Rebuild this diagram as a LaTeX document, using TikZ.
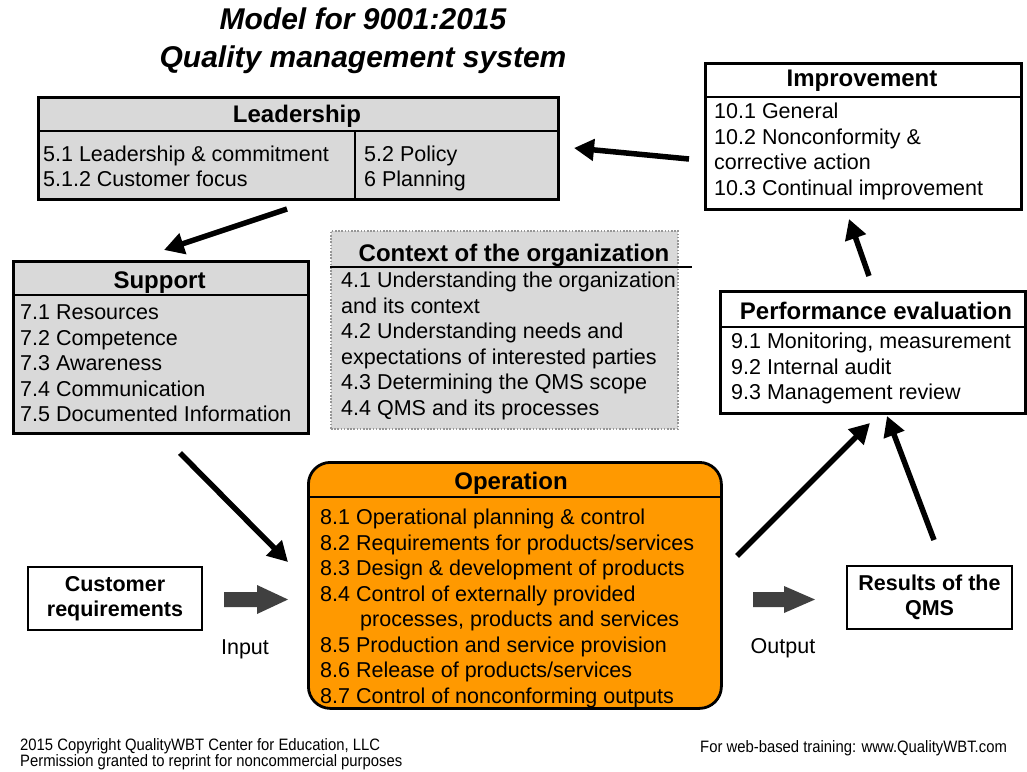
\documentclass[tikz,border=0pt]{standalone}
\usepackage{fontspec}
\setmainfont{Liberation Sans}
\newfontfamily\narrowsans[FakeStretch=0.9]{Liberation Sans}
\usetikzlibrary{arrows.meta,calc}

\definecolor{boxgray}{RGB}{217,217,217}
\definecolor{opsorange}{RGB}{255,153,0}
\definecolor{blockgray}{RGB}{64,64,64}
\definecolor{dotgray}{RGB}{150,150,150}

\tikzset{
  panel/.style={draw=black, line width=2.8pt, anchor=north west, inner sep=0pt},
  graypanel/.style={panel, fill=boxgray},
  whitepanel/.style={panel, fill=white},
  rule/.style={line width=2.8pt},
  head/.style={font=\fontsize{24}{28}\selectfont\bfseries, anchor=base, inner sep=0pt},
  body/.style={font=\fontsize{21.5}{25.6}\selectfont, anchor=base west, inner sep=0pt},
  plain/.style={font=\fontsize{21.5}{25.6}\selectfont, inner sep=0pt},
  endbox/.style={whitepanel, anchor=center, align=center,
    font=\fontsize{21.5}{25}\selectfont\bfseries},
  flow/.style={line width=5.5pt, -{Triangle[length=20pt,width=21pt]}},
  blockarrow/.style={fill=blockgray},
  foot/.style={font=\fontsize{16.5}{17}\selectfont\narrowsans, anchor=base west, inner sep=0pt},
}

% one text node per line, baselines 25.6 units apart
\newcommand\panellines[4]{%
  \foreach \t [count=\i] in {#4}{%
    \node[body] (#1-\i) at ({#2},{#3+(\i-1)*25.6}) {\t};}}

\begin{document}
\begin{tikzpicture}[x=1pt,y=-1pt]
\useasboundingbox (0,0) rectangle (1027,771);
\fill[white] (0,0) rectangle (1027,771);

% title
\node[align=center, inner sep=0pt, font=\fontsize{30}{38}\selectfont\bfseries\itshape]
  (title) at (363,41) {Model for 9001:2015\\Quality management system};

% Leadership
\node[graypanel, minimum width=520, minimum height=102] (lead) at (37,96) {};
\draw[rule] (37,131) -- (557,131);
\draw[rule] (355,131) -- (355,198);
\node[head] (lead-h) at (297,122.5) {Leadership};
\panellines{leadL}{43}{161}{5.1 Leadership \& commitment, 5.1.2 Customer focus}
\panellines{leadR}{364}{161}{5.2 Policy, 6 Planning}

% Improvement
\node[whitepanel, minimum width=316, minimum height=146] (impr) at (704,62) {};
\draw[rule] (704,97) -- (1020,97);
\node[head] (impr-h) at (862,86.5) {Improvement};
\panellines{imprL}{714}{118.5}{10.1 General, 10.2 Nonconformity \&, corrective action,
  10.3 Continual improvement}

% Support
\node[graypanel, minimum width=295, minimum height=172] (supp) at (12,260) {};
\draw[rule] (12,295) -- (307,295);
\node[head] (supp-h) at (159.5,288.5) {Support};
\panellines{suppL}{20}{319.5}{7.1 Resources, 7.2 Competence, 7.3 Awareness,
  7.4 Communication, 7.5 Documented Information}

% Context of the organization
\node[panel, fill=boxgray, draw=dotgray, line width=2pt, dash pattern=on 1.6pt off 1.6pt,
  minimum width=347, minimum height=198] (ctx) at (330,230) {};
\draw[line width=2.5pt] (330,267) -- (692,267);
\node[head] (ctx-h) at (514,261.5) {Context of the organization};
\panellines{ctxL}{341}{287.5}{4.1 Understanding the organization, and its context,
  4.2 Understanding needs and, expectations of interested parties,
  4.3 Determining the QMS scope, 4.4 QMS and its processes}

% Performance evaluation
\node[whitepanel, minimum width=305, minimum height=122] (perf) at (719,290) {};
\draw[rule] (719,327) -- (1024,327);
\node[head] (perf-h) at (876,319.5) {Performance evaluation};
\panellines{perfL}{731}{348.5}{{9.1 Monitoring, measurement}, 9.2 Internal audit,
  9.3 Management review}

% Operation
\node[panel, fill=opsorange, rounded corners=22pt, minimum width=413, minimum height=246]
  (ops) at (307,461) {};
\draw[rule] (307,497) -- (720,497);
\node[head] (ops-h) at (511,489.5) {Operation};
\panellines{opsA}{320}{524.5}{8.1 Operational planning \& control,
  8.2 Requirements for products/services, 8.3 Design \& development of products,
  8.4 Control of externally provided}
\node[body] (ops-cont) at (360,626.5) {processes, products and services};
\panellines{opsB}{320}{652}{8.5 Production and service provision,
  8.6 Release of products/services, 8.7 Control of nonconforming outputs}

% input and output
\node[endbox, minimum width=174, minimum height=63] (cust) at (115,598.5)
  {Customer\\requirements};
\node[endbox, minimum width=165, minimum height=63] (res) at (929.5,597.5)
  {Results of the\\QMS};
\fill[blockgray] (224,592) -- (257,592) -- (257,585) -- (288,599.5) -- (257,614)
  -- (257,607) -- (224,607) -- cycle;
\fill[blockgray] (753,592) -- (784,592) -- (784,586) -- (815,599.5) -- (784,613)
  -- (784,607) -- (753,607) -- cycle;
\node[plain] (inlbl) at (245,649) {Input};
\node[plain] (outlbl) at (783,648) {Output};

% cycle arrows
\coordinate (imprOut) at (689,159);
\coordinate (leadIn) at (574,148);
\coordinate (leadOut) at (287,209);
\coordinate (suppIn) at (164,250);
\coordinate (suppOut) at (180,453);
\coordinate (opsIn) at (288,562);
\coordinate (opsOut) at (737,556);
\coordinate (perfInA) at (870,423);
\coordinate (resOut) at (934,540);
\coordinate (perfInB) at (887,416);
\coordinate (perfOut) at (869,276);
\coordinate (imprIn) at (849,219);
\draw[flow] (imprOut) -- (leadIn);
\draw[flow] (leadOut) -- (suppIn);
\draw[flow] (suppOut) -- (opsIn);
\draw[flow] (opsOut) -- (perfInA);
\draw[flow] (resOut) -- (perfInB);
\draw[flow] (perfOut) -- (imprIn);

% footer
\node[foot] (copy1) at (20,750) {2015 Copyright QualityWBT Center for Education, LLC};
\node[foot] (copy2) at (20,766) {Permission granted to reprint for noncommercial purposes};
\node[foot] (web) at (700,752) {For web-based training: www.QualityWBT.com};
\end{tikzpicture}
\end{document}
